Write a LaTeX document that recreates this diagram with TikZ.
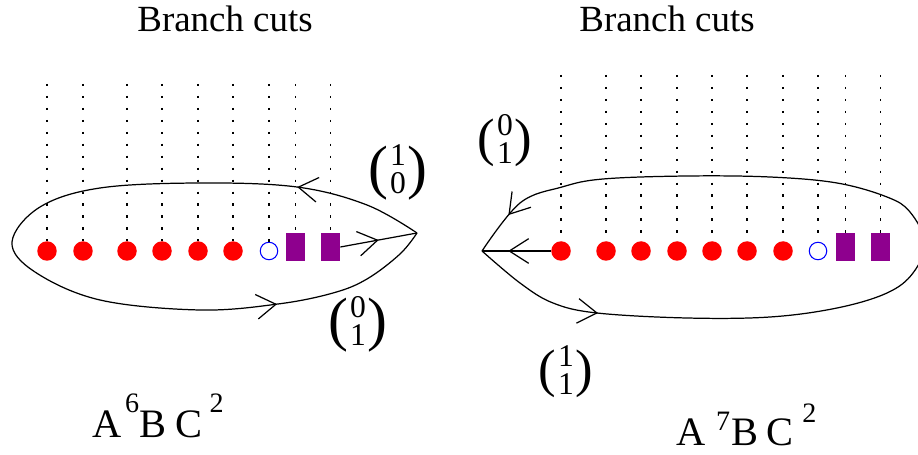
\documentclass[tikz,border=0pt]{standalone}
\usepackage{fontspec}
\setmainfont{Liberation Serif}
\usetikzlibrary{arrows.meta,decorations.markings}

\definecolor{xpurple}{RGB}{142,0,142}
\newcommand{\bigparen}[2]{\vcenter{\hbox{\fontsize{#1}{#1}\selectfont #2}}}
\newcommand{\colvec}[3][34]{{\fontsize{18}{14.5}\selectfont$\bigparen{#1}{(}\mkern1mu\begin{tabular}{@{}c@{}}#2\\#3\end{tabular}\mkern1mu\bigparen{#1}{)}$}}
\newcommand{\supnum}[2]{\raisebox{#1}{\fontsize{16}{18}\selectfont #2}}

\tikzset{
  cut/.style={line width=1.1pt, dash pattern=on 1.3pt off 5.5pt},
  pole/.style={circle, fill=red, minimum size=0.39cm, inner sep=0pt},
  zero/.style={circle, draw=blue, line width=0.6pt, minimum size=0.35cm, inner sep=0pt},
  block/.style={rectangle, fill=xpurple, minimum width=0.38cm, minimum height=0.56cm, inner sep=0pt},
  contour/.style={line width=0.7pt},
  barbat/.style={postaction={decorate, decoration={markings,
      mark=at position #1 with {\arrow{Straight Barb[length=11pt,width=14pt]}}}}},
  title/.style={anchor=base, font=\fontsize{21}{25}\selectfont},
  word/.style={anchor=base west, inner sep=0pt},
}

\begin{document}
\begin{tikzpicture}[x=0.02cm,y=-0.02cm]
        \useasboundingbox (0,0) rectangle (918,455);
        \clip (0,0) rectangle (918,455);

        \node[title] (titleL) at (225,32) {Branch cuts};
        \node[title] (titleR) at (667,32) {Branch cuts};

        % left sheet
        \foreach \x [count=\i] in {47,83,127,162,198,233}
            \node[pole] (pL\i) at (\x,251) {};
        \node[zero] (zL) at (269,251) {};
        \node[block] (bL1) at (295.5,247) {};
        \node[block] (bL2) at (330.5,247) {};
        \foreach \n in {pL1,pL2,pL3,pL4,pL5,pL6,zL,bL1,bL2}
            \draw[cut] (\n.north |- 0,84) -- (\n.north);

        \coordinate (tipL) at (417,233);
        \draw[contour, barbat=0.146, barbat=0.817] plot[smooth, tension=0.6] coordinates {
            (tipL) (367,205) (297,187) (200,183) (100,188) (40,207) (12,242)
            (35,272) (100,300) (200,310) (278,304) (333,293) (367,279) (400,254) (tipL)};
        \draw[contour, barbat=0.5] (bL2.east) -- (tipL);

        \node (vL1) at (398,173) {\colvec{1}{0}};
        \node (vL2) at (358,325) {\colvec{0}{1}};

        \node[word] (wL) at (92,437) {\fontsize{23}{26}\selectfont
            A\hspace{2pt}\supnum{14pt}{6}\hspace{0.5pt}B\hspace{5pt}C\hspace{4pt}\supnum{14pt}{2}};

        % right sheet
        \foreach \x [count=\i] in {561,606,641,677,712,747,783}
            \node[pole] (pR\i) at (\x,251) {};
        \node[zero] (zR) at (818,251) {};
        \node[block] (bR1) at (845.5,247) {};
        \node[block] (bR2) at (880.5,247) {};
        \foreach \n in {pR1,pR2,pR3,pR4,pR5,pR6,pR7,zR,bR1,bR2}
            \draw[cut] (\n.north |- 0,75) -- (\n.north);

        \coordinate (tipR) at (482,251);
        \draw[contour, barbat=0.136, barbat=0.955] plot[smooth, tension=0.6] coordinates {
            (tipR) (520,283) (553,303) (597,313) (687,318) (770,317) (837,308)
            (887,293) (913,273) (925,243) (910,212) (887,197) (837,183) (770,177)
            (687,176) (603,179) (562,187) (520,203) (tipR)};
        \draw[contour, barbat=0.62] (pR1.west) -- (tipR);

        \node (vR1) at (505,143) {\colvec[30]{0}{1}};
        \node (vR2) at (566,374) {\colvec[30]{1}{1}};

        \node[word] (wR) at (676,445) {\fontsize{23}{26}\selectfont
            A\hspace{6pt}\supnum{8.5pt}{7}\hspace{0.5pt}B\hspace{5pt}C\hspace{5pt}\supnum{13pt}{2}};
\end{tikzpicture}
\end{document}
